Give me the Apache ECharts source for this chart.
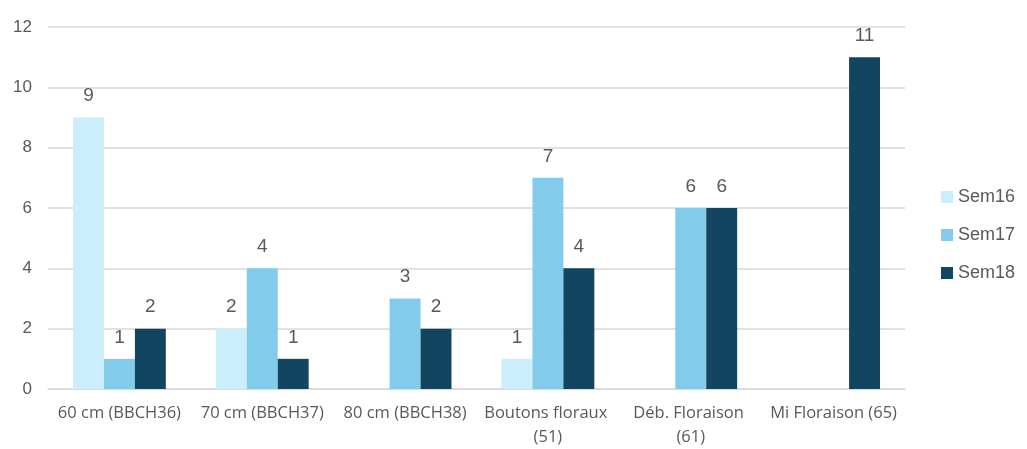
<!DOCTYPE html>
<html>
<head>
<meta charset="utf-8">
<script src="https://cdn.jsdelivr.net/npm/echarts@6/dist/echarts.min.js"></script>
<style>
html,body{margin:0;padding:0;background:#fff;}
#c{width:1027px;height:449px;}
</style>
</head>
<body>
<div id="c"></div>
<script>
const categories = ["60 cm (BBCH36)", "70 cm (BBCH37)", "80 cm (BBCH38)", "Boutons floraux (51)", "Déb. Floraison (61)", "Mi Floraison (65)"];
const seriesNames = ["Sem16", "Sem17", "Sem18"];
const sem16 = [9, 2, null, 1, null, null];
const sem17 = [1, 4, 3, 7, 6, null];
const sem18 = [2, 1, 2, 4, 6, 11];
const yTicks = [0, 2, 4, 6, 8, 10, 12];

const colors = ["#CAEEFB", "#83CBEB", "#124660"];
const catFont = "'Open Sans', sans-serif";
const numFont = "'Liberation Sans', Arial, sans-serif";
const textColor = "#595959";

const chart = echarts.init(document.getElementById('c'), null, {renderer: 'canvas'});
const dataSets = [sem16, sem17, sem18];
chart.setOption({
  animation: false,
  textStyle: {fontFamily: numFont},
  grid: {left: 48, right: 122, top: 27, bottom: 59},
  legend: {
    orient: 'vertical',
    left: 936,
    top: 183,
    itemWidth: 12,
    itemHeight: 12,
    itemGap: 20,
    icon: 'rect',
    textStyle: {fontSize: 18, color: textColor, fontFamily: numFont},
    data: seriesNames
  },
  xAxis: {
    type: 'category',
    data: categories,
    axisLine: {lineStyle: {color: '#d9d9d9', width: 1.5}},
    axisTick: {show: false},
    axisLabel: {
      color: textColor, fontSize: 16.5, margin: 12, interval: 0,
      width: 142, overflow: 'break', lineHeight: 24, fontFamily: catFont
    }
  },
  yAxis: {
    type: 'value',
    min: yTicks[0],
    max: yTicks[yTicks.length - 1],
    interval: 2,
    axisLine: {show: false},
    axisTick: {show: false},
    splitLine: {lineStyle: {color: '#d9d9d9', width: 1.5}},
    axisLabel: {color: textColor, fontSize: 17, margin: 16, fontFamily: numFont}
  },
  series: seriesNames.map((n, i) => ({
    name: n,
    type: 'bar',
    data: dataSets[i].map(v => v === null ? '-' : v),
    itemStyle: {color: colors[i]},
    barGap: '0%',
    barCategoryGap: '35%',
    label: {
      show: true, position: 'top', distance: 12,
      color: textColor, fontSize: 19, fontFamily: numFont
    }
  }))
});
</script>
</body>
</html>
